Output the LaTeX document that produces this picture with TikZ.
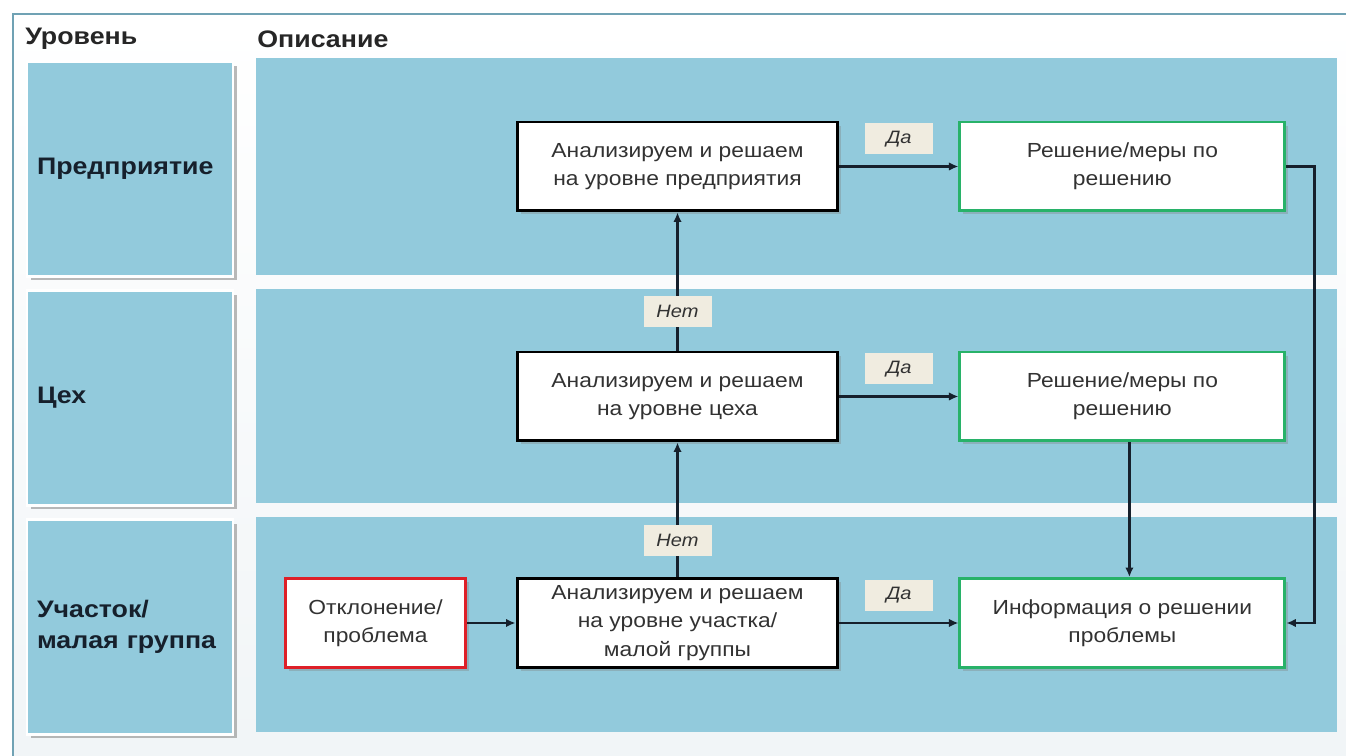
\documentclass[tikz,border=0pt]{standalone}
\usepackage{fontspec}
\setmainfont{Liberation Sans}[FakeStretch=1.12]
\usepackage{tikz}
\usetikzlibrary{arrows.meta, positioning, shadows}

\definecolor{bandblue}{RGB}{146,202,220}
\definecolor{framegray}{RGB}{112,162,180}
\definecolor{paper}{RGB}{241,245,247}
\definecolor{tagfill}{RGB}{240,236,224}
\definecolor{okgreen}{RGB}{40,178,105}
\definecolor{alertred}{RGB}{222,32,40}
\definecolor{inkdark}{RGB}{22,32,44}
\definecolor{textgray}{RGB}{50,50,50}

\tikzset{
    stepbox/.style={draw=black, line width=1.7pt, fill=white, minimum width=6.42cm, minimum height=1.78cm,
        align=center, text=textgray, font=\fontsize{11.6}{16.2}\selectfont,
        drop shadow={shadow xshift=0.07cm, shadow yshift=-0.07cm, opacity=0.35}},
    resultbox/.style={stepbox, draw=okgreen, minimum width=6.5cm},
    startbox/.style={stepbox, draw=alertred, minimum width=3.62cm, minimum height=1.8cm},
    levelbox/.style={fill=bandblue, draw=white, line width=1.2pt, minimum width=4.12cm, minimum height=4.3cm,
        text width=3.72cm, inner xsep=0.2cm, align=left, text=inkdark,
        font=\fontsize{13.6}{18}\selectfont\bfseries,
        drop shadow={shadow xshift=0.08cm, shadow yshift=-0.08cm, fill=black!45, opacity=0.6}},
    tag/.style={fill=tagfill, minimum width=1.36cm, minimum height=0.62cm, inner sep=0pt,
        text=textgray, font=\fontsize{10.2}{12}\selectfont\itshape},
    flow/.style={draw=inkdark, line width=1.4pt, -{Latex[length=1.9mm, width=1.7mm]}},
    head/.style={anchor=west, inner sep=0pt, text=black!85, font=\fontsize{13.6}{16}\selectfont\bfseries}
}

\begin{document}
\begin{tikzpicture}[x=0.02cm, y=-0.02cm]
    \useasboundingbox (0,0) rectangle (1346,756);
    \shade[top color=white, bottom color=paper] (13,14) rectangle (1346,756);
    \draw[framegray, line width=1.6pt] (13,756) -- (13,14) -- (1346,14);

    \node[head] (hlevel) at (25,39) {Уровень};
    \node[head] (hdesc) at (257,39) {Описание};

    \foreach \ya/\yb in {58/275, 289/503, 517/732}
        \fill[bandblue] (256,\ya) rectangle (1337,\yb);

    \node[levelbox] (lvent) at (130,169) {Предприятие};
    \node[levelbox] (lvws) at (130,398) {Цех};
    \node[levelbox] (lvsec) at (130,627) {Участок/\\малая группа};

    \node[stepbox] (anaent) at (677.5,166.5) {Анализируем и решаем\\на уровне предприятия};
    \node[stepbox] (anaws) at (677.5,396.5) {Анализируем и решаем\\на уровне цеха};
    \node[stepbox, minimum height=1.8cm] (anasec) at (677.5,623) {Анализируем и решаем\\на уровне участка/\\малой группы};
    \node[startbox] (dev) at (375.5,623) {Отклонение/\\проблема};

    \node[resultbox, right=2.38cm of anaent] (solent) {Решение/меры по\\решению};
    \node[resultbox, right=2.38cm of anaws] (solws) {Решение/меры по\\решению};
    \node[resultbox, right=2.38cm of anasec] (info) {Информация о решении\\проблемы};

    \draw[flow] (dev) -- (anasec);
    \draw[flow] (anasec) -- node[tag, pos=0.27] (nosec) {Нет} (anaws);
    \draw[flow] (anaws) -- node[tag, pos=0.28] (nows) {Нет} (anaent);
    \draw[flow] (anaent) -- node[tag, above=0.22cm] (yesent) {Да} (solent);
    \draw[flow] (anaws) -- node[tag, above=0.22cm] (yesws) {Да} (solws);
    \draw[flow] (anasec) -- node[tag, above=0.22cm] (yessec) {Да} (info);
    \draw[flow] ([xshift=0.14cm]solws.south) -- ([xshift=0.14cm]info.north);
    \draw[flow] (solent.east) -- ++(28,0) |- (info.east);
\end{tikzpicture}
\end{document}
